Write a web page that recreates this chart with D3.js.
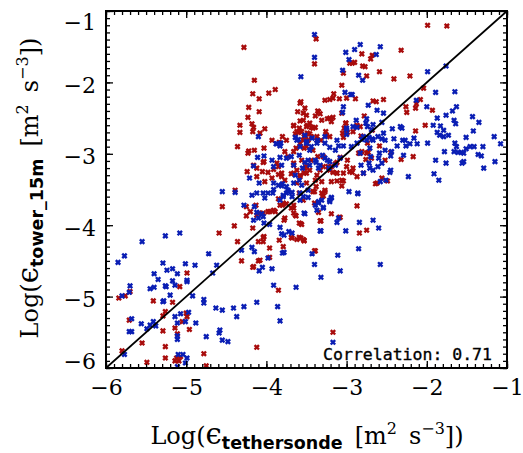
<!DOCTYPE html>
<html>
<head>
<meta charset="utf-8">
<script src="https://cdn.jsdelivr.net/npm/d3@7"></script>
<style>
  body { margin: 0; background: #fff; }
</style>
</head>
<body>
<svg id="chart" width="523" height="453"></svg>
<script>
// axis ticks / labels
const majorTicks = [-6, -5, -4, -3, -2, -1];
const xSubLabel = "tethersonde";
const ySubLabel = "tower_15m";
const correlationText = "Correlation: 0.71";

// red points: [log eps tethersonde, log eps tower]
const redPts = [
  [-4.28,-1.51],[-4.15,-1.97],[-3.89,-2.10],[-3.97,-2.15],[-4.17,-2.16],[-4.09,-2.23],[-4.22,-2.35],[-4.09,-2.41],
  [-4.23,-2.49],[-4.33,-2.60],[-4.18,-2.58],[-4.16,-2.63],[-4.17,-2.69],[-4.02,-2.65],[-4.33,-2.70],[-4.36,-2.90],
  [-4.23,-2.99],[-4.22,-2.96],[-4.03,-2.92],[-3.93,-2.81],[-3.80,-2.76],[-3.58,-2.29],[-3.52,-2.36],[-3.54,-2.43],
  [-3.61,-2.41],[-3.58,-2.54],[-3.66,-2.61],[-4.04,-3.12],[-4.24,-3.25],[-4.12,-3.32],[-4.39,-3.51],
  [-1.99,-1.20],[-1.75,-1.21],[-3.38,-1.39],[-3.40,-1.74],[-2.81,-1.60],[-2.68,-1.62],[-2.70,-1.67],[-2.93,-1.73],
  [-2.80,-1.77],[-2.77,-1.78],[-2.32,-1.55],[-2.59,-1.85],[-2.75,-1.91],[-2.41,-1.95],[-2.21,-1.91],[-2.04,-2.08],
  [-3.06,-2.04],[-3.16,-2.16],[-3.17,-2.22],[-3.27,-2.25],[-3.21,-2.24],[-3.09,-2.23],[-2.89,-2.23],[-2.63,-2.27],
  [-2.67,-2.26],[-2.54,-2.24],[-2.08,-2.24],[-2.13,-2.30],[-2.14,-2.36],[-2.26,-2.34],[-2.25,-2.42],[-1.93,-2.39],
  [-3.06,-2.43],[-3.35,-2.41],[-3.21,-2.50],[-3.17,-2.49],[-2.78,-2.47],[-3.01,-2.57],[-2.83,-2.62],[-2.02,-2.60],
  [-2.14,-2.68],[-3.05,-2.71],[-3.04,-2.77],[-2.82,-2.75],[-2.59,-2.89],[-2.74,-2.85],[-2.85,-2.99],[-2.81,-2.97],
  [-2.73,-2.98],[-2.45,-2.98],[-2.17,-3.04],[-2.32,-3.08],[-2.76,-3.08],[-2.99,-3.09],[-3.12,-3.12],[-3.17,-3.26],
  [-3.12,-3.27],[-2.93,-3.26],[-3.06,-3.37],[-3.04,-3.38],[-2.64,-3.42],[-3.40,-3.53],[-3.29,-3.59],
  [-4.55,-3.74],[-4.40,-4.01],[-4.59,-4.11],[-4.36,-4.23],[-4.17,-4.04],[-4.03,-4.16],[-4.04,-4.23],[-4.31,-4.50],
  [-4.17,-4.59],[-4.10,-4.50],[-3.96,-4.45],[-3.84,-4.21],[-3.79,-4.30],[-3.85,-4.91],[-3.96,-4.32],[-4.12,-5.71],
  [-4.78,-5.80],[-4.75,-5.97],[-5.70,-4.93],[-5.76,-4.99],[-5.84,-5.02],[-5.41,-5.06],[-5.17,-5.08],[-5.08,-4.86],
  [-4.99,-4.67],[-5.26,-5.21],[-5.29,-5.27],[-5.00,-5.23],[-4.99,-5.28],[-5.05,-5.35],[-5.14,-5.44],[-5.11,-5.52],
  [-5.29,-5.48],[-4.96,-5.46],[-5.55,-5.65],[-5.80,-5.76],[-5.26,-5.70],[-5.49,-5.92],[-5.26,-5.86],[-5.14,-5.90],
  [-5.12,-5.86],[-5.09,-5.90],[-5.07,-5.84],[-5.71,-5.33],
  [-4.25,-3.74],[-4.13,-3.72],[-4.09,-3.83],[-4.25,-3.87],[-3.98,-3.81],[-3.91,-3.79],[-3.80,-3.72],[-3.66,-3.72],
  [-3.64,-3.86],[-3.59,-3.97],[-3.57,-4.18],[-3.62,-4.20],[-3.68,-4.18],[-3.77,-3.90],[-3.66,-3.83],[-3.53,-4.21],
  [-3.54,-3.65],[-3.42,-3.53],[-3.30,-3.59],[-3.40,-3.69],[-3.56,-3.99],[-3.53,-4.22],[-3.35,-3.82],[-3.19,-3.84],
  [-3.08,-3.89],[-3.32,-3.94],[-2.87,-3.73],[-2.84,-4.11],[-2.75,-4.07],[-3.40,-4.36],[-3.17,-5.50],
  [-3.00,-2.22],[-3.36,-2.40],[-3.33,-2.44],[-3.39,-2.47],[-3.31,-2.53],[-3.24,-2.51],[-3.19,-2.55],[-3.58,-2.68],
  [-3.49,-2.60],[-3.44,-2.63],[-3.39,-2.63],[-3.64,-2.72],[-3.60,-2.70],[-3.51,-2.76],[-3.46,-2.72],[-3.37,-2.76],
  [-3.32,-2.81],[-3.25,-2.74],[-3.21,-2.76],[-3.26,-2.69],[-3.01,-2.57],[-3.03,-2.64],[-2.99,-2.70],[-2.92,-2.69],
  [-2.87,-2.60],[-2.68,-2.67],[-3.04,-1.87],[-2.90,-1.72],[-2.96,-1.73],[-4.08,-2.71],[-3.75,-2.81],[-3.84,-2.84],
  [-4.15,-2.95],[-3.66,-2.60],[-3.59,-2.64],
  [-4.03,-3.11],[-4.16,-3.16],[-4.12,-3.20],[-4.05,-3.25],[-3.98,-3.26],[-3.91,-3.22],[-3.85,-3.18],[-3.85,-3.29],
  [-3.81,-3.32],[-3.93,-3.34],[-4.02,-3.39],
  [-3.66,-3.16],[-3.62,-3.23],[-3.58,-3.30],[-3.69,-3.28],[-3.52,-3.20],[-3.46,-3.23],[-3.37,-3.30],[-3.29,-3.18],
  [-3.21,-3.23],[-3.14,-3.14],[-3.08,-3.05],[-3.00,-3.18],[-2.92,-3.20],[-2.83,-2.99],[-2.75,-2.99],[-2.69,-3.06],
  [-3.04,-3.27],[-2.96,-3.25],[-2.87,-3.32],[-2.79,-3.27],[-2.62,-3.41],[-2.56,-3.34],[-2.49,-3.38],[-2.52,-3.09],
  [-3.31,-3.55],[-3.27,-3.51],[-3.19,-3.39],[-3.12,-3.38],[-3.06,-3.45],
  [-3.79,-3.69],[-3.75,-3.70],[-3.83,-3.72],[-3.66,-3.76],[-3.63,-3.87],[-3.69,-3.76],
  [-4.20,-3.81],[-4.12,-3.86],[-4.04,-3.83],[-3.96,-3.81],[-3.89,-3.81],
  [-3.78,-3.93],[-3.57,-3.98],[-3.33,-3.94],[-3.09,-3.89],
  [-4.04,-4.17],[-4.10,-4.23],[-3.69,-4.17],[-3.59,-4.17],[-3.54,-4.20],[-4.08,-4.49],[-3.39,-4.36],[-4.16,-4.58],
  [-3.62,-2.69],[-3.56,-2.69],[-3.53,-2.76],[-3.50,-2.62],[-3.48,-2.81],[-3.58,-2.85],[-3.63,-2.92],[-3.53,-2.92],
  [-3.66,-2.97],[-3.77,-2.97],[-3.73,-3.04],[-3.66,-3.13],[-3.56,-3.09],[-3.50,-3.18],[-3.87,-3.13],[-3.81,-3.27],
  [-3.66,-3.27],[-3.58,-3.32],[-3.53,-3.27],[-3.77,-3.37],[-3.62,-3.41],[-3.50,-3.41],[-3.59,-3.55],[-3.85,-3.63],
  [-3.57,-2.27],[-3.50,-2.46],[-3.54,-2.53],[-3.46,-2.57],[-3.42,-2.64],[-3.49,-2.71],[-3.44,-2.76],[-3.37,-2.81],
  [-3.54,-2.81],[-3.50,-2.90],[-3.42,-2.95],[-3.36,-3.04],[-3.44,-3.09],[-3.29,-3.04],[-3.23,-3.18],[-3.33,-3.23],
  [-3.50,-3.27],[-3.39,-3.37],[-3.31,-3.39],[-3.19,-3.18],[-3.12,-3.27],[-3.27,-3.53],[-3.38,-3.46]
];

// blue points
const bluePts = [
  [-3.57,-1.92],[-4.10,-2.76],[-4.55,-3.53],[-4.39,-3.54],[-4.16,-3.17],[-4.03,-3.03],[-4.11,-3.05],[-4.21,-3.34],
  [-4.09,-3.41],[-3.88,-2.86],[-3.82,-2.85],
  [-3.40,-1.33],[-3.40,-1.65],[-2.83,-1.47],[-2.90,-1.54],[-2.58,-1.50],[-2.63,-1.61],[-3.01,-1.58],[-2.97,-1.68],
  [-3.05,-1.83],[-2.85,-1.90],[-2.80,-1.97],[-1.99,-1.85],[-1.76,-1.77],[-3.02,-2.14],[-2.95,-2.17],[-2.93,-2.17],
  [-2.73,-2.32],[-3.04,-2.34],[-2.62,-2.39],[-2.13,-2.25],[-1.89,-2.14],[-1.65,-2.13],[-2.00,-2.34],[-1.63,-2.34],
  [-1.68,-2.40],[-1.43,-2.48],[-1.35,-2.56],[-1.87,-2.50],[-1.76,-2.46],[-1.66,-2.53],[-1.64,-2.58],[-2.75,-2.51],
  [-2.76,-2.57],[-2.67,-2.59],[-2.43,-2.65],[-2.33,-2.62],[-2.31,-2.64],[-1.92,-2.60],[-1.83,-2.61],[-1.79,-2.67],
  [-1.87,-2.70],[-1.84,-2.74],[-1.79,-2.76],[-1.73,-2.74],[-1.42,-2.68],[-1.51,-2.77],[-1.16,-2.76],[-1.08,-2.86],
  [-2.92,-2.62],[-3.00,-2.64],[-2.69,-2.66],[-2.72,-2.77],[-2.81,-2.80],[-2.56,-2.79],[-2.67,-2.81],[-2.41,-2.79],
  [-2.30,-2.81],[-2.27,-2.81],[-2.16,-2.78],[-1.99,-2.85],[-2.37,-2.89],[-2.26,-2.89],[-2.21,-2.86],[-2.12,-2.86],
  [-1.65,-2.85],[-1.63,-2.90],[-1.66,-2.97],[-1.61,-2.98],[-1.57,-2.98],[-1.54,-2.99],[-1.51,-2.93],[-1.46,-2.90],
  [-1.41,-2.90],[-1.30,-2.90],[-1.36,-3.01],[-1.32,-3.03],[-1.78,-2.97],[-1.89,-3.09],[-1.76,-3.13],[-1.56,-3.13],
  [-1.54,-3.11],[-1.29,-3.20],[-1.15,-3.11],[-1.91,-3.28],[-1.85,-3.37],[-2.44,-2.97],[-2.45,-3.03],[-2.29,-3.02],
  [-2.60,-3.06],[-2.56,-3.13],[-2.72,-3.13],[-2.71,-3.20],[-2.67,-3.23],[-2.61,-3.18],[-2.82,-3.16],[-2.79,-3.27],
  [-2.45,-3.23],[-2.46,-3.26],[-2.23,-3.32],[-2.58,-3.39],[-2.51,-3.37],[-2.86,-3.55],[-2.97,-3.53],[-3.19,-3.61],
  [-5.55,-4.23],[-5.26,-4.15],[-5.08,-4.11],[-5.77,-4.43],[-5.85,-4.52],[-5.29,-4.53],[-5.24,-4.63],[-5.17,-4.61],
  [-5.11,-4.68],[-5.40,-4.68],[-5.35,-4.76],[-5.01,-4.54],[-4.89,-4.56],[-4.99,-4.77],[-4.99,-4.79],[-5.17,-4.78],
  [-5.14,-4.84],[-5.26,-4.85],[-5.25,-4.86],[-5.45,-4.89],[-5.40,-4.87],[-5.70,-4.85],[-5.71,-4.94],[-5.80,-4.99],
  [-5.20,-4.98],[-5.29,-5.07],[-5.28,-5.06],[-4.92,-4.99],[-4.78,-5.04],[-4.78,-5.09],[-4.72,-4.40],[-4.62,-4.56],
  [-4.67,-4.67],[-4.63,-5.16],[-4.55,-5.19],[-4.41,-5.16],[-4.28,-5.14],[-4.37,-5.28],[-4.12,-5.08],[-3.91,-4.84],
  [-3.86,-5.14],[-3.83,-5.34],[-3.63,-4.87],[-5.07,-5.24],[-4.97,-5.22],[-5.14,-5.28],[-5.11,-5.37],[-4.88,-5.37],
  [-5.41,-5.35],[-5.45,-5.40],[-5.38,-5.41],[-5.56,-5.38],[-5.68,-5.31],[-5.71,-5.49],[-5.68,-5.49],[-5.11,-5.55],
  [-5.11,-5.60],[-4.75,-5.56],[-4.58,-5.47],[-4.59,-5.51],[-4.55,-5.61],[-4.48,-5.63],[-5.77,-5.81],[-5.10,-5.81],
  [-5.04,-5.81],[-4.99,-5.86],[-5.01,-5.93],[-5.11,-5.98],[-5.49,-5.45],[-5.01,-5.35],
  [-4.18,-3.58],[-4.12,-3.55],[-4.04,-3.55],[-3.92,-3.55],[-3.79,-3.60],[-3.73,-3.53],[-3.68,-3.54],[-3.58,-3.65],
  [-4.02,-3.62],[-4.28,-3.72],[-4.15,-3.74],[-4.12,-3.82],[-4.06,-3.84],[-4.04,-3.88],[-4.03,-3.97],[-4.10,-3.90],
  [-4.16,-3.93],[-3.96,-3.99],[-3.83,-4.03],[-3.81,-4.12],[-3.78,-4.14],[-3.72,-4.09],[-3.68,-4.11],[-3.78,-4.38],
  [-4.18,-4.31],[-4.15,-4.37],[-4.31,-4.35],[-3.98,-4.46],[-4.05,-4.59],[-4.09,-4.64],[-3.93,-4.61],
  [-3.48,-3.61],[-3.35,-3.67],[-3.29,-3.75],[-3.39,-3.72],[-3.21,-3.67],[-3.19,-3.62],[-2.86,-3.56],[-3.52,-3.84],
  [-3.32,-4.08],[-3.12,-3.96],[-3.01,-4.08],[-2.84,-3.96],[-2.67,-3.93],[-2.60,-4.04],[-2.85,-4.33],[-3.43,-4.40],
  [-3.40,-4.55],[-3.11,-4.42],[-3.08,-4.64],[-3.32,-4.73],[-2.58,-4.55],[-3.17,-5.64],
  [-2.54,-2.43],[-2.56,-2.56],[-3.05,-2.42],[-2.88,-2.53],[-2.74,-2.62],[-2.87,-2.63],[-3.00,-2.66],[-3.00,-2.73],
  [-3.64,-2.77],[-3.60,-2.80],[-3.87,-2.86],[-3.83,-2.89],[-3.50,-2.83],[-3.44,-2.90],[-3.37,-2.85],[-3.27,-2.76],
  [-3.12,-2.81],[-3.10,-2.89],[-3.04,-2.89],[-2.94,-2.90],[-2.87,-2.85],
  [-2.79,-2.76],[-2.75,-2.81],[-2.68,-2.79],[-2.61,-2.76],[-2.54,-2.71],[-2.52,-2.81],[-2.52,-2.95],[-2.59,-2.99],
  [-2.71,-2.92],[-2.70,-3.04],[-2.83,-2.99],
  [-3.39,-3.09],[-3.33,-3.16],[-3.27,-3.06],[-3.21,-3.11],[-3.35,-3.20],[-3.22,-3.20],[-3.14,-3.16],[-3.46,-3.16],
  [-3.52,-3.12],[-3.30,-3.02],
  [-3.91,-3.18],[-3.81,-3.16],[-3.93,-3.09],[-3.83,-3.05],
  [-3.85,-3.44],[-3.80,-3.42],[-3.91,-3.50],[-3.98,-3.55],[-3.79,-3.58],[-3.75,-3.55],[-3.83,-3.65],[-3.73,-3.51],
  [-3.66,-3.41],[-3.58,-3.55],[-3.53,-3.83],[-3.35,-3.69],[-3.31,-3.65],[-3.21,-3.65],[-3.37,-3.79],[-3.29,-3.76],
  [-3.33,-4.08],[-3.10,-3.90],[-3.80,-4.39],
  [-3.62,-2.81],[-3.58,-2.90],[-3.50,-2.85],[-3.59,-3.02],[-3.69,-3.04],[-3.75,-3.06],[-3.66,-3.16],[-3.55,-3.20],
  [-3.64,-3.30],[-3.59,-3.37],[-3.56,-3.44],[-3.75,-3.46],[-3.81,-3.45],[-3.91,-3.41],[-3.48,-3.51],[-3.54,-3.60],
  [-3.68,-3.60],
  [-3.52,-2.74],[-3.43,-2.78],[-3.36,-2.81],[-3.27,-2.85],[-3.21,-2.91],[-3.14,-2.95],[-3.46,-2.95],[-3.08,-3.06],
  [-3.24,-3.09],[-3.38,-3.12],[-3.48,-3.09]
];

const redColor = "#a80c0c";
const blueColor = "#0a1eb4";

const svg = d3.select("#chart");
const frame = { left: 106, right: 507, top: 11, bottom: 368 };

const x = d3.scaleLinear([-6, -1], [frame.left, frame.right]);
const y = d3.scaleLinear([-6, -1], [frame.bottom, frame.top]);
const minorTicks = d3.range(-60, -9).map(d => d / 10);

const serif = "DejaVu Serif";

// points (clipped to the frame)
svg.append("clipPath").attr("id", "clip")
  .append("rect")
    .attr("x", frame.left).attr("y", frame.top)
    .attr("width", frame.right - frame.left)
    .attr("height", frame.bottom - frame.top);

const cross = "M-2.2,-2.2L2.2,2.2M-2.2,2.2L2.2,-2.2";
const pts = svg.append("g").attr("clip-path", "url(#clip)");
[[redPts, redColor], [bluePts, blueColor]].forEach(([data, col]) => {
  pts.append("g")
    .attr("stroke", col)
    .attr("stroke-width", 2.4)
    .attr("fill", "none")
    .selectAll("path")
    .data(data)
    .join("path")
      .attr("transform", d => `translate(${x(d[0])},${y(d[1])})`)
      .attr("d", cross);
});

// 1:1 line
svg.append("line")
  .attr("x1", x(-6)).attr("y1", y(-6))
  .attr("x2", x(-1)).attr("y2", y(-1))
  .attr("stroke", "#000")
  .attr("stroke-width", 1.7);

function styleAxis(g) {
  g.select(".domain").remove();
  g.selectAll(".tick line").attr("stroke", "#000").attr("stroke-width", 1.3);
  g.selectAll("text")
    .attr("fill", "#000")
    .style("font-family", serif)
    .style("font-size", "22px");
}

// minor ticks on all four sides, pointing inward
[
  [d3.axisBottom(x), `translate(0,${frame.bottom})`],
  [d3.axisTop(x), `translate(0,${frame.top})`],
  [d3.axisLeft(y), `translate(${frame.left},0)`],
  [d3.axisRight(y), `translate(${frame.right},0)`]
].forEach(([axis, tr]) => {
  svg.append("g").attr("transform", tr)
    .call(axis.tickValues(minorTicks).tickSizeInner(-4).tickSizeOuter(0).tickFormat(""))
    .call(styleAxis);
});

// major ticks (labels bottom and left)
const fmt = d3.format("d");
svg.append("g").attr("transform", `translate(0,${frame.bottom})`)
  .call(d3.axisBottom(x).tickValues(majorTicks).tickFormat(fmt).tickSizeInner(-7).tickSizeOuter(0).tickPadding(11))
  .call(styleAxis);
svg.append("g").attr("transform", `translate(0,${frame.top})`)
  .call(d3.axisTop(x).tickValues(majorTicks).tickSizeInner(-7).tickSizeOuter(0).tickFormat(""))
  .call(styleAxis);
svg.append("g").attr("transform", `translate(${frame.left},0)`)
  .call(d3.axisLeft(y).tickValues(majorTicks).tickFormat(fmt).tickSizeInner(-7).tickSizeOuter(0).tickPadding(10))
  .call(styleAxis)
  .call(g => g.selectAll("text").attr("dy", d => d === -1 ? "0.82em" : d === -6 ? "0em" : "0.45em"));
svg.append("g").attr("transform", `translate(${frame.right},0)`)
  .call(d3.axisRight(y).tickValues(majorTicks).tickSizeInner(-7).tickSizeOuter(0).tickFormat(""))
  .call(styleAxis);

// frame
svg.append("rect")
  .attr("x", frame.left).attr("y", frame.top)
  .attr("width", frame.right - frame.left)
  .attr("height", frame.bottom - frame.top)
  .attr("fill", "none")
  .attr("stroke", "#000")
  .attr("stroke-width", 2);

// axis titles
function title(sel, sub) {
  sel.style("font-family", serif).style("font-size", "24px").attr("fill", "#000");
  sel.append("tspan").text("Log(");
  sel.append("tspan").style("font-size", "29px").text("\u03F5");
  sel.append("tspan").attr("dy", 5)
    .style("font-family", "DejaVu Sans").style("font-weight", "bold").style("font-size", "17.5px")
    .text(sub);
  sel.append("tspan").attr("dy", -5).text("\u2002[m");
  sel.append("tspan").attr("dy", -10).style("font-size", "16px").text("2");
  sel.append("tspan").attr("dy", 10).text("\u2002s");
  sel.append("tspan").attr("dy", -10).style("font-size", "16px").text("\u22123");
  sel.append("tspan").attr("dy", 10).text("])");
}

svg.append("text")
  .attr("x", 307)
  .attr("y", 444)
  .attr("text-anchor", "middle")
  .call(title, xSubLabel);

svg.append("text")
  .attr("transform", `translate(38,188) rotate(-90)`)
  .attr("text-anchor", "middle")
  .call(title, ySubLabel);

// correlation annotation
svg.append("text")
  .attr("x", 492)
  .attr("y", 360)
  .attr("text-anchor", "end")
  .style("font-family", "DejaVu Sans Mono")
  .style("font-size", "16.5px")
  .attr("fill", "#000")
  .attr("stroke", "#000")
  .attr("stroke-width", 0.35)
  .text(correlationText);
</script>
</body>
</html>
